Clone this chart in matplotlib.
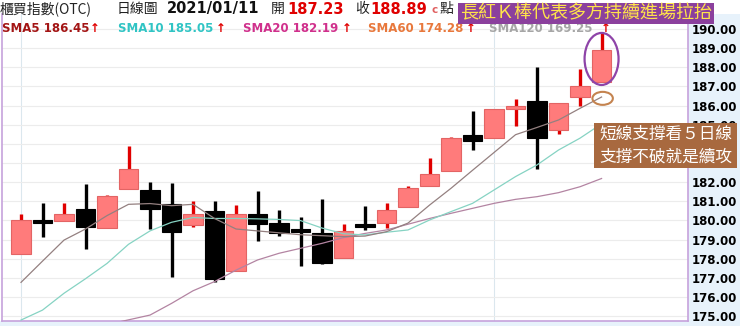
import numpy as np
import matplotlib.pyplot as plt
from matplotlib.patches import Rectangle, Ellipse

plt.rcParams['font.family'] = ['DejaVu Sans', 'Noto Sans CJK TC']
CJK = ['Noto Sans CJK TC', 'DejaVu Sans']

# daily candles (OTC index, last ~28 sessions up to 2021/01/11)
opens  = [178.24, 180.00, 179.99, 180.60, 179.62, 181.66, 181.57, 180.86, 179.76, 180.47,
          177.37, 180.33, 179.86, 179.50, 179.34, 178.02, 179.78, 179.88, 180.68, 181.82,
          182.58, 184.48, 184.33, 185.84, 186.23, 184.71, 186.47, 187.23]
highs  = [180.33, 180.93, 180.93, 181.90, 181.33, 183.89, 182.00, 181.94, 181.03, 181.03,
          180.79, 181.55, 180.54, 180.20, 181.14, 179.83, 180.77, 180.93, 181.82, 183.28,
          184.35, 185.72, 185.83, 186.33, 188.00, 186.16, 187.90, 189.80]
lows   = [178.24, 179.15, 179.99, 178.49, 179.62, 181.66, 179.57, 177.02, 179.67, 176.80,
          177.37, 178.90, 179.20, 177.62, 177.72, 178.02, 179.50, 179.58, 180.68, 181.82,
          182.58, 183.67, 184.33, 184.94, 182.67, 184.52, 185.98, 187.23]
closes = [180.02, 179.86, 180.33, 179.67, 181.26, 182.69, 180.58, 179.41, 180.33, 176.93,
          180.33, 179.79, 179.32, 179.40, 177.79, 179.46, 179.66, 180.54, 181.69, 182.41,
          184.29, 184.15, 185.83, 186.00, 184.29, 186.16, 187.03, 188.89]

sma5  = [176.76, 177.87, 178.97, 179.55, 180.25, 180.84, 180.88, 180.77, 180.84, 180.10,
         179.55, 179.45, 179.35, 179.25, 179.20, 179.15, 179.18, 179.41, 179.86, 180.80,
         181.68, 182.62, 183.55, 184.48, 184.86, 185.25, 185.86, 186.45]
sma10 = [174.79, 175.31, 176.19, 176.95, 177.75, 178.75, 179.45, 179.90, 180.15, 180.10,
         180.10, 180.08, 180.05, 179.99, 179.60, 179.30, 179.24, 179.38, 179.50, 180.02,
         180.46, 180.89, 181.59, 182.29, 182.90, 183.68, 184.30, 185.05]
sma20 = [np.nan, np.nan, np.nan, np.nan, 174.55, 174.80, 175.05, 175.66, 176.32, 176.80,
         177.40, 177.93, 178.28, 178.54, 178.80, 179.10, 179.32, 179.50, 179.80, 180.10,
         180.37, 180.63, 180.89, 181.10, 181.24, 181.45, 181.76, 182.19]

yticks = list(range(175, 191))
hidden_ticks = [183, 184]   # sit under the note box

W, H = 740, 326
def fx(px): return px / W
def fy(py): return 1 - py / H

fig = plt.figure(figsize=(7.4, 3.26), dpi=100)
fig.patch.set_facecolor('white')
# light blue price column + bottom strip
fig.add_artist(Rectangle((fx(688), 0), fx(52), fy(14), transform=fig.transFigure,
                         facecolor='#e7f2fb', edgecolor='none', zorder=-1))
fig.add_artist(Rectangle((0, 0), 1, 5 / H, transform=fig.transFigure,
                         facecolor='#e7f2fb', edgecolor='none', zorder=-1))

ax = fig.add_axes([fx(2), fy(321), fx(686), (321 - 14) / H])
x = np.arange(len(opens))
ax.set_xlim(-0.884, 31.02)
ax.set_ylim(174.74, 190.79)

ax.set_yticks(yticks)
ax.set_yticklabels(['' if v in hidden_ticks else f'{v:.2f}' for v in yticks], fontweight='bold')
ax.yaxis.tick_right()
ax.tick_params(axis='y', length=0, pad=2.5, labelsize=8.5)
ax.set_xticks([])
ax.grid(axis='y', color='#ececec', lw=0.8)
ax.set_axisbelow(True)
for s in ['left', 'bottom', 'right']:
    ax.spines[s].set_color('#c6a2dc')
    ax.spines[s].set_linewidth(1.2)
ax.spines['top'].set_visible(False)

ax.axvline(0, color='#dbe7ee', lw=0.8, zorder=0.5)
ax.axvline(22, color='#dbe7ee', lw=0.8, zorder=0.5)

# candles
for i in x:
    o, h, l, c = opens[i], highs[i], lows[i], closes[i]
    up = c > o
    wick = '#e00000' if up else 'black'
    ax.vlines(i, l, h, color=wick, lw=2.4, zorder=2)
    body = max(abs(c - o), 0.14)
    ax.bar(i, body, bottom=min(o, c), width=0.9,
           color='#ff7b7b' if up else 'black',
           edgecolor='#e36464' if up else 'black', lw=0.8, zorder=3)

# moving averages
ax.plot(x, sma20, color='#b384a2', lw=0.9, zorder=4)
ax.plot(x, sma10, color='#86d3c3', lw=0.9, zorder=4)
ax.plot(x, sma5, color='#948080', lw=0.9, zorder=4)

# highlight ellipses
ax.add_patch(Ellipse((27, 188.44), 1.58, 2.72, fill=False, edgecolor='#8e44a8',
                     lw=1.6, clip_on=False, zorder=6))
ax.add_patch(Ellipse((27.05, 186.38), 0.95, 0.68, fill=False, edgecolor='#c4834f',
                     lw=1.5, clip_on=False, zorder=6))

# header row 1
fig.text(fx(0), fy(9), '櫃買指數(OTC)', family=CJK, fontsize=10, color='#222222', va='center')
fig.text(fx(117), fy(9), '日線圖', family=CJK, fontsize=10, color='#222222', va='center')
fig.text(fx(167), fy(9), '2021/01/11', fontsize=10.5, fontweight='bold', color='#111111', va='center')
fig.text(fx(271), fy(9), '開', family=CJK, fontsize=10, color='#222222', va='center')
fig.text(fx(287), fy(9), '187.23', fontsize=10.5, fontweight='bold', color='#e00000', va='center')
fig.text(fx(355), fy(9), '收', family=CJK, fontsize=10, color='#222222', va='center')
fig.text(fx(370), fy(9), '188.89', fontsize=10.5, fontweight='bold', color='#e00000', va='center')
fig.text(fx(431), fy(10), 'c', fontsize=7.5, fontweight='bold', color='#e06060', va='center')
fig.text(fx(440), fy(9), '點', family=CJK, fontsize=10, color='#222222', va='center')

# header row 2: moving average values
ma_labels = [('SMA5 186.45', '#a31515', 2, 90),
             ('SMA10 185.05', '#30c4c4', 118, 216),
             ('SMA20 182.19', '#d0308c', 243, 342),
             ('SMA60 174.28', '#e8783c', 368, 466),
             ('SMA120 169.25', '#a6a6a6', 489, 601)]
for txt, col, x0, xa in ma_labels:
    fig.text(fx(x0), fy(28), txt, fontsize=8.5, fontweight='bold', color=col, va='center')
    fig.text(fx(xa), fy(28), '↑', fontsize=8.5, fontweight='bold', color='#e00000', va='center')

# purple banner
fig.add_artist(Rectangle((fx(458), fy(23.5)), fx(256), 20.5 / H, transform=fig.transFigure,
                         facecolor='#8b409d', edgecolor='none', zorder=5))
fig.text(fx(586), fy(13.2), '長紅Ｋ棒代表多方持續進場拉抬', family=CJK, fontsize=13,
         color='#ffe44a', ha='center', va='center', zorder=6)

# brown note box
fig.add_artist(Rectangle((fx(594), fy(168)), fx(143), 45 / H, transform=fig.transFigure,
                         facecolor='#a8693f', edgecolor='none', zorder=5))
fig.text(fx(665.5), fy(134.5), '短線支撐看５日線', family=CJK, fontsize=12,
         color='white', ha='center', va='center', zorder=6)
fig.text(fx(665.5), fy(157), '支撐不破就是續攻', family=CJK, fontsize=12,
         color='white', ha='center', va='center', zorder=6)

fig.savefig('out.png', dpi=100)
